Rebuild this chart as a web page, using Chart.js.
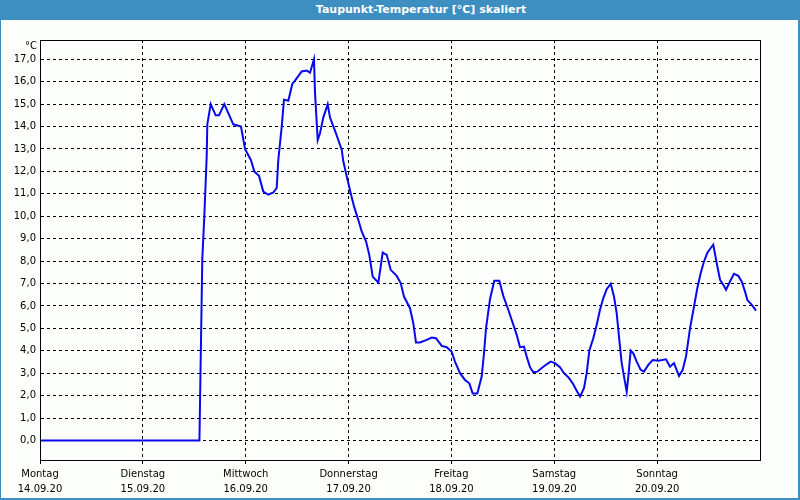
<!DOCTYPE html>
<html lang="de">
  <head>
    <meta charset="UTF-8">
    <title>Taupunkt-Temperatur</title>
    <script src="https://cdn.jsdelivr.net/npm/chart.js@4.4.6/dist/chart.umd.min.js"></script>
    <style>
      body { margin: 0; background: #fff; }
      #frame {
        position: relative; width: 800px; height: 500px; box-sizing: border-box;
        background: #fcfefc; border-left: 1px solid #3d8fc2; border-right: 2px solid #3d8fc2; border-bottom: 2px solid #3d8fc2;
      }
      #title {
        position: absolute; left: 0; top: 0; width: 800px; height: 20px; background: #3d8fc2;
        color: #fff; font: bold 11px "DejaVu Sans", sans-serif; line-height: 20px;
        text-align: center; box-sizing: border-box; padding-left: 40px;
      }
      #chart { position: absolute; left: -1px; top: 0; }
    </style>
  </head>
  <body>
    <div id="frame">
      <div id="title">Taupunkt-Temperatur [°C] skaliert</div>
      <canvas id="chart" width="800" height="500"></canvas>
    </div>
    <script>
      // Stunden seit Montag 00:00 und Taupunkt in °C
      const hours = [0, 37.2, 37.87, 38.34, 38.9, 39.04, 39.83, 41.0, 41.77, 43.0, 43.94, 45.1, 46.9, 47.83,
        49.23, 50.0, 51.1, 52.1, 53.27, 54.44, 55.23, 55.6, 56.4, 56.93, 57.94, 58.87, 59.5, 61.06, 62.23,
        63.0, 63.93, 64.17, 64.8, 65.33, 66.1, 67.13, 67.67, 68.67, 69.23, 70.4, 70.77, 71.56, 72.5, 73.27,
        74.27, 75.06, 76.07, 76.83, 77.63, 78.94, 79.5, 79.96, 80.9, 81.83, 83.23, 84.16, 84.93, 86.33,
        87.1, 87.73, 88.67, 90.23, 91.4, 92.4, 93.73, 94.9, 96.06, 96.83, 98.0, 99.17, 100.17, 100.96,
        102.04, 103.06, 103.6, 104.07, 105.0, 106.0, 107.17, 108.1, 109.27, 110.44, 111.23, 112.0, 112.93,
        113.56, 114.33, 115.1, 116.04, 117.3, 118.37, 119.16, 120.17, 121.33, 122.27, 123.27, 124.3,
        125.23, 126.0, 126.93, 127.56, 128.17, 129.1, 129.9, 130.67, 131.44, 132.23, 133.16, 133.93,
        134.56, 135.17, 135.73, 136.27, 136.9, 137.27, 137.83, 138.44, 139.23, 140.16, 140.93, 141.94,
        142.96, 144.27, 146.07, 147.0, 147.93, 149.1, 149.96, 150.73, 151.67, 152.6, 153.37, 154.16,
        154.93, 155.7, 156.33, 157.1, 157.9, 158.67, 159.43, 160.07, 161.0, 161.93, 162.94, 163.73,
        164.5, 165.04, 166.1, 167.07];
      const dewPoint = [0, 0, 8.1, 10.0, 12.7, 14.1, 15.0, 14.5, 14.5, 15.0, 14.6, 14.1, 14.0, 13.0,
        12.5, 12.0, 11.8, 11.1, 10.96, 11.06, 11.26, 12.5, 14.0, 15.2, 15.15, 15.9, 16.05, 16.46, 16.5,
        16.4, 17.0, 15.5, 13.4, 13.7, 14.4, 15.0, 14.4, 13.9, 13.6, 12.97, 12.45, 11.78, 11.03, 10.44,
        9.84, 9.32, 8.88, 8.28, 7.31, 7.04, 7.76, 8.38, 8.28, 7.61, 7.34, 7.02, 6.42, 5.9,
        5.23, 4.37, 4.37, 4.49, 4.59, 4.56, 4.22, 4.16, 3.96, 3.52, 3.0, 2.7, 2.55, 2.1,
        2.1, 2.85, 3.89, 5.0, 6.3, 7.12, 7.12, 6.45, 5.83, 5.16, 4.71, 4.16, 4.19,
        3.74, 3.27, 3.04, 3.07, 3.27, 3.42, 3.52, 3.45, 3.27, 3.0, 2.82, 2.55,
        2.22, 1.96, 2.33, 3.0, 4.0, 4.56, 5.16, 5.83, 6.35, 6.75, 6.99, 6.42,
        5.68, 4.5, 3.45, 2.85, 2.18, 2.85, 4.01, 3.89, 3.52, 3.15, 3.07, 3.37,
        3.59, 3.56, 3.62, 3.29, 3.45, 2.88, 3.15, 3.74, 5.0, 5.97, 6.79, 7.46,
        7.98, 8.36, 8.54, 8.73, 7.91, 7.17, 6.94, 6.72, 7.09, 7.43, 7.34, 7.09,
        6.64, 6.27, 6.05, 5.79];

      const dayHours = [0, 24, 48, 72, 96, 120, 144];
      const dayNames = ["Montag", "Dienstag", "Mittwoch", "Donnerstag", "Freitag", "Samstag", "Sonntag"];
      const dayDates = ["14.09.20", "15.09.20", "16.09.20", "17.09.20", "18.09.20", "19.09.20", "20.09.20"];
      const yTickValues = [0, 1, 2, 3, 4, 5, 6, 7, 8, 9, 10, 11, 12, 13, 14, 15, 16, 17];

      const FONT = { family: "DejaVu Sans", size: 10, lineHeight: 1.5 };

      // Rahmen oben/rechts und Einheit über der y-Achse
      const framePlugin = {
        id: "frame",
        afterDraw(chart) {
          const { ctx, chartArea: a } = chart;
          ctx.save();
          ctx.strokeStyle = "#000";
          ctx.lineWidth = 1;
          ctx.strokeRect(Math.round(a.left) + 0.5, Math.round(a.top) + 0.5, a.right - a.left, a.bottom - a.top);
          ctx.fillStyle = "#000";
          ctx.font = "10px 'DejaVu Sans'";
          ctx.textAlign = "right";
          ctx.textBaseline = "middle";
          ctx.fillText("°C", a.left - 3, a.top + 6);
          ctx.restore();
        }
      };

      new Chart(document.getElementById("chart"), {
        type: "line",
        data: {
          datasets: [{
            data: hours.map((h, i) => ({ x: h, y: dewPoint[i] })),
            borderColor: "#0808ee",
            borderWidth: 2,
            pointRadius: 0,
            tension: 0,
            fill: false
          }]
        },
        options: {
          responsive: false,
          animation: false,
          devicePixelRatio: 1,
          layout: { padding: { left: 0, top: 40, right: 40, bottom: 0 } },
          plugins: { legend: { display: false }, tooltip: { enabled: false } },
          scales: {
            x: {
              type: "linear",
              min: 0,
              max: 168,
              afterFit: (s) => { s.height = 40; },
              afterBuildTicks: (s) => { s.ticks = dayHours.map(v => ({ value: v })); },
              grid: { color: "#000", lineWidth: 1, drawTicks: true, tickLength: 4 },
              border: { display: true, color: "#000", width: 1, dash: [3, 3] },
              ticks: {
                autoSkip: false, maxRotation: 0, padding: 3, color: "#000", font: FONT,
                callback: (v, i) => [dayNames[i], dayDates[i]]
              }
            },
            y: {
              min: -0.87,
              max: 17.86,
              afterFit: (s) => { s.width = 40; },
              afterBuildTicks: (s) => { s.ticks = yTickValues.map(v => ({ value: v })); },
              grid: { color: "#000", lineWidth: 1, drawTicks: false },
              border: { display: true, color: "#000", width: 1, dash: [3, 3] },
              ticks: {
                padding: 4, color: "#000", font: FONT,
                callback: (v) => v.toFixed(1).replace(".", ",")
              }
            }
          }
        },
        plugins: [framePlugin]
      });
    </script>
  </body>
</html>
